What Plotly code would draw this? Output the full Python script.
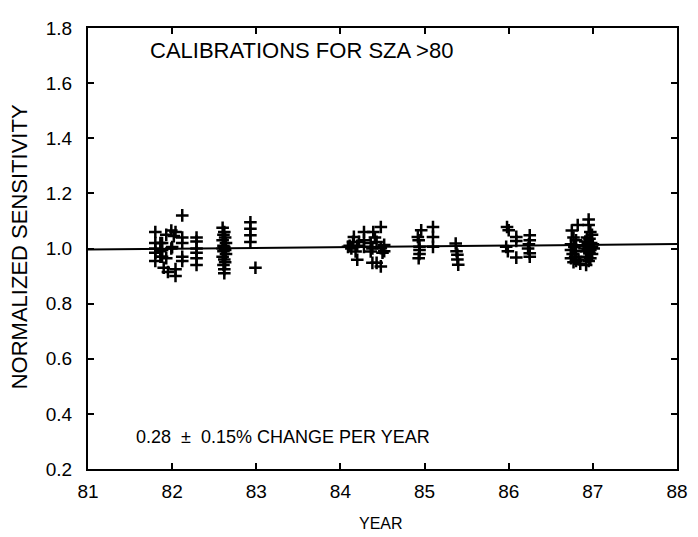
import plotly.graph_objects as go

# Observation dates (decimal year, 19xx) and normalized sensitivities
year = [
    # early 1982
    81.80, 81.80, 81.80, 81.80, 81.80,
    81.86, 81.86, 81.86,
    81.88, 81.88, 81.88, 81.90,
    81.93, 81.93, 81.95,
    81.99, 81.99, 82.00, 82.02,
    82.04, 82.04, 82.04,
    82.12, 82.12, 82.12, 82.12, 82.12,
    82.29, 82.29, 82.29, 82.29, 82.29, 82.29,
    # mid 1982
    82.60, 82.62, 82.61, 82.63, 82.60, 82.64, 82.61, 82.62, 82.60, 82.63,
    82.61, 82.64, 82.60, 82.62, 82.63, 82.61, 82.62, 82.62,
    # late 1982
    82.93, 82.93, 82.93, 82.93, 82.99,
    # 1984
    84.09, 84.11, 84.13, 84.15, 84.16, 84.18, 84.20, 84.20, 84.22,
    84.28, 84.28, 84.28, 84.36, 84.36, 84.38, 84.39, 84.41, 84.43,
    84.38, 84.43, 84.48, 84.48, 84.50, 84.52, 84.52, 84.48,
    # late 1984 / 1985
    84.96, 84.92, 84.93, 84.94, 84.94, 84.93, 84.94,
    85.10, 85.10, 85.10,
    85.37, 85.38, 85.39, 85.39, 85.40,
    # 1986
    85.98, 86.00, 85.97, 85.99, 86.09, 86.09, 86.09,
    86.25, 86.25, 86.24, 86.23, 86.25, 86.25,
    # late 1986
    86.75, 86.82, 86.77, 86.80, 86.74, 86.78, 86.74, 86.80, 86.76,
    86.79, 86.74, 86.80, 86.77, 86.83, 86.85,
    86.95, 86.95, 86.97, 86.99, 86.93, 86.96, 86.91, 86.94, 86.98,
    87.00, 86.92, 86.95, 86.99, 86.90, 86.94, 86.97, 87.01, 86.92,
    86.96, 86.99, 86.93, 86.97, 86.95, 86.92,
]
sensitivity = [
    1.060, 1.020, 1.000, 0.985, 0.955,
    1.020, 0.990, 0.970,
    1.020, 0.995, 0.970, 0.930,
    1.050, 0.965, 0.915,
    1.065, 1.000, 1.005, 1.045,
    1.060, 0.925, 0.900,
    1.120, 1.040, 1.020, 0.970, 0.955,
    1.040, 1.025, 1.000, 0.985, 0.965, 0.940,
    1.075, 1.060, 1.050, 1.040, 1.030, 1.020, 1.010, 1.005, 1.000, 0.995,
    0.990, 0.980, 0.970, 0.960, 0.950, 0.940, 0.925, 0.910,
    1.095, 1.072, 1.048, 1.024, 0.930,
    1.006, 1.010, 1.000, 1.024, 1.042, 0.989, 0.959, 1.010, 1.024,
    1.060, 1.030, 1.006, 1.020, 0.989, 1.000, 1.060, 1.040, 1.024,
    0.948, 0.948, 1.078, 1.001, 0.985, 1.013, 0.990, 0.935,
    1.066, 1.042, 1.030, 1.006, 0.995, 0.965, 0.980,
    1.078, 1.042, 1.006,
    1.018, 0.990, 0.977, 0.960, 0.941,
    1.078, 1.066, 1.006, 0.990, 0.967, 1.042, 1.027,
    1.048, 1.030, 1.015, 1.000, 0.983, 0.970,
    1.065, 1.085, 1.040, 1.030, 1.015, 1.005, 0.995, 0.990, 0.980,
    0.970, 0.965, 0.955, 0.950, 0.960, 0.945,
    1.105, 1.085, 1.060, 1.050, 1.040, 1.035, 1.025, 1.020, 1.020,
    1.015, 1.010, 1.005, 1.005, 1.000, 0.995, 0.995, 1.000, 0.990,
    0.985, 0.980, 0.970, 0.965, 0.955, 0.940,
]

# Fitted trend line end points
fit_year = [81.0, 88.0]
fit_value = [0.9965, 1.016]

x_ticks = [81, 82, 83, 84, 85, 86, 87, 88]
y_ticks = [0.2, 0.4, 0.6, 0.8, 1.0, 1.2, 1.4, 1.6, 1.8]
y_labels = ["0.2", "0.4", "0.6", "0.8", "1.0", "1.2", "1.4", "1.6", "1.8"]

title_text = "CALIBRATIONS FOR SZA >80"
note_text = "0.28\u00a0\u00a0\u00b1\u00a0\u00a00.15% CHANGE PER YEAR"

FONT = "Liberation Sans, Arial, Helvetica, sans-serif"

fig = go.Figure()
fig.add_trace(go.Scatter(
    x=fit_year, y=fit_value, mode="lines",
    line=dict(color="black", width=2), hoverinfo="skip", showlegend=False,
))
fig.add_trace(go.Scatter(
    x=year, y=sensitivity, mode="markers",
    marker=dict(symbol="cross-thin", size=9, color="black",
                line=dict(width=2.5, color="black")),
    showlegend=False,
))

# page body has an 8px margin, so the figure is sized/offset to compensate
fig.update_layout(
    width=690, height=529, autosize=False,
    margin=dict(l=80, r=12, t=10, b=68),
    paper_bgcolor="white", plot_bgcolor="white",
    font=dict(family=FONT, color="black", size=18),
    showlegend=False,
    annotations=[
        dict(text=title_text, x=0.363, y=0.949, xref="paper", yref="paper",
             xanchor="center", yanchor="middle",
             showarrow=False, font=dict(size=22, family=FONT)),
        dict(text=note_text, x=0.078, y=0.073, xref="paper", yref="paper",
             xanchor="left", yanchor="middle",
             showarrow=False, font=dict(size=18, family=FONT)),
        dict(text="NORMALIZED SENSITIVITY", x=-0.117, y=0.503, xref="paper", yref="paper",
             xanchor="center", yanchor="middle",
             textangle=-90, showarrow=False, font=dict(size=22, family=FONT)),
        dict(text="YEAR", x=0.497, y=-0.124, xref="paper", yref="paper",
             xanchor="center", yanchor="middle",
             showarrow=False, font=dict(size=16, family=FONT)),
    ],
)

fig.update_xaxes(
    range=[81, 88], tickvals=x_ticks, ticktext=[str(v) for v in x_ticks],
    ticks="inside", ticklen=6, tickwidth=1.5, tickcolor="black",
    showline=True, linecolor="black", linewidth=2, mirror="ticks",
    showgrid=False, zeroline=False, tickfont=dict(size=19),
    ticklabelstandoff=4,
)
fig.update_yaxes(
    range=[0.2, 1.8], tickvals=y_ticks, ticktext=y_labels,
    ticks="inside", ticklen=6, tickwidth=1.5, tickcolor="black",
    showline=True, linecolor="black", linewidth=2, mirror="ticks",
    showgrid=False, zeroline=False, tickfont=dict(size=19),
    ticklabelstandoff=10,
)

fig.write_html("out.html")
